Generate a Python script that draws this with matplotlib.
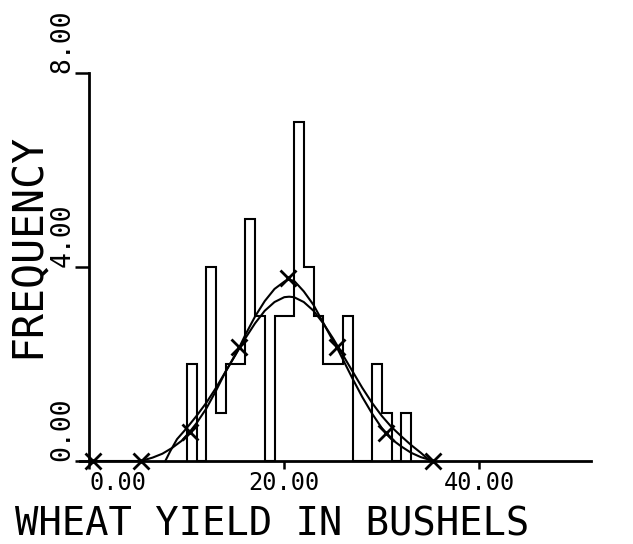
import numpy as np
import matplotlib
matplotlib.use("Agg")
import matplotlib.pyplot as plt

# ---------- data ----------
bin_edges = [10, 11, 12, 13, 14, 15, 16, 17, 18, 19, 20, 21, 22, 23, 24, 25,
             26, 27, 28, 29, 30, 31, 32, 33]
bin_counts = [2, 0, 4, 1, 2, 2, 5, 3, 0, 3, 3, 7, 4, 3, 2, 2, 3, 0, 0, 2, 1, 0, 1]

# smooth fitted curve
fit_x = [7.8, 8.3, 9, 10, 11, 12, 13, 14, 15, 16, 17, 18, 19, 20, 20.5, 21,
         22, 23, 24, 25, 26, 27, 28, 29, 30, 31, 32, 33, 34, 34.8]
fit_y = [0.0, 0.2, 0.45, 0.68, 0.93, 1.2, 1.51, 1.85, 2.19, 2.53, 2.84, 3.1,
         3.28, 3.38, 3.39, 3.38, 3.28, 3.1, 2.84, 2.53, 2.19, 1.85, 1.51, 1.2,
         0.93, 0.7, 0.51, 0.33, 0.17, 0.03]

# curve through the x-marked points
mark_x = [0.4, 5.3, 10.3, 15.4, 20.4, 25.4, 30.4, 35.3]
mark_y = [0.0, 0.0, 0.6, 2.35, 3.78, 2.36, 0.58, 0.0]
curve_x = [0.4, 5.3, 6.5, 7.5, 8.5, 9.5, 10.3, 11, 12, 13, 14, 15, 15.4, 16,
           17, 18, 19, 20, 20.4, 21, 22, 23, 24, 25, 25.4, 26, 27, 28, 29, 30,
           30.4, 31, 32, 33, 34, 35.3]
curve_y = [0.0, 0.0, 0.07, 0.15, 0.27, 0.42, 0.6, 0.78, 1.08, 1.45, 1.85, 2.2,
           2.35, 2.6, 2.98, 3.3, 3.55, 3.7, 3.74, 3.72, 3.5, 3.22, 2.85, 2.48,
           2.34, 2.1, 1.7, 1.32, 0.98, 0.68, 0.58, 0.45, 0.3, 0.17, 0.08, 0.0]

x_ticks = [0, 20, 40]
x_labels = ["0.00", "20.00", "40.00"]
y_ticks = [0, 4, 8]
y_labels = ["0.00", "4.00", "8.00"]

FONT = "DejaVu Sans Mono"


def main():
    fig = plt.figure(figsize=(6.33, 5.44), dpi=100)
    ax = fig.add_axes([0.1256, 0.1526, 0.8087, 0.7127])

    # ----------histogram outline----------
    ax.stairs(bin_counts, bin_edges, baseline=0, color="black", lw=1.5,
              clip_on=False)

    # ----------curves----------
    ax.plot(fit_x, fit_y, color="black", lw=1.5, clip_on=False)
    ax.plot(curve_x, curve_y, color="black", lw=1.5, clip_on=False)
    ax.plot(mark_x, mark_y, ls="none", marker="x", ms=12, mew=2,
            color="black", clip_on=False, zorder=5)

    # ----------axes----------
    ax.set_xlim(-1, 51.5)
    ax.set_ylim(0, 8)
    for side in ["top", "right"]:
        ax.spines[side].set_visible(False)
    ax.spines["left"].set_position(("data", 0))
    ax.spines["left"].set_bounds(0, 8)
    ax.spines["left"].set_linewidth(2)
    ax.spines["bottom"].set_linewidth(2)

    ax.set_xticks(x_ticks)
    ax.set_xticklabels(x_labels, fontfamily=FONT, fontsize=17)
    ax.get_xticklabels()[0].set_ha("left")
    ax.tick_params(axis="x", direction="out", length=6, width=1.8, pad=1)

    ax.set_yticks(y_ticks)
    ax.set_yticklabels(y_labels, fontfamily=FONT, fontsize=19,
                       rotation=90, va="bottom", ha="right")
    ax.tick_params(axis="y", direction="out", length=10, width=1.8, pad=0)

    fig.text(0.044, 1 - 245 / 544, "FREQUENCY", rotation=90, ha="center",
             va="center", fontfamily=FONT, fontsize=30)
    fig.text(15 / 633, 0.5 / 544, "WHEAT YIELD IN BUSHELS", ha="left",
             va="bottom", fontfamily=FONT, fontsize=28)

    fig.savefig("out.png", dpi=100)


if __name__ == '__main__':
    main()
